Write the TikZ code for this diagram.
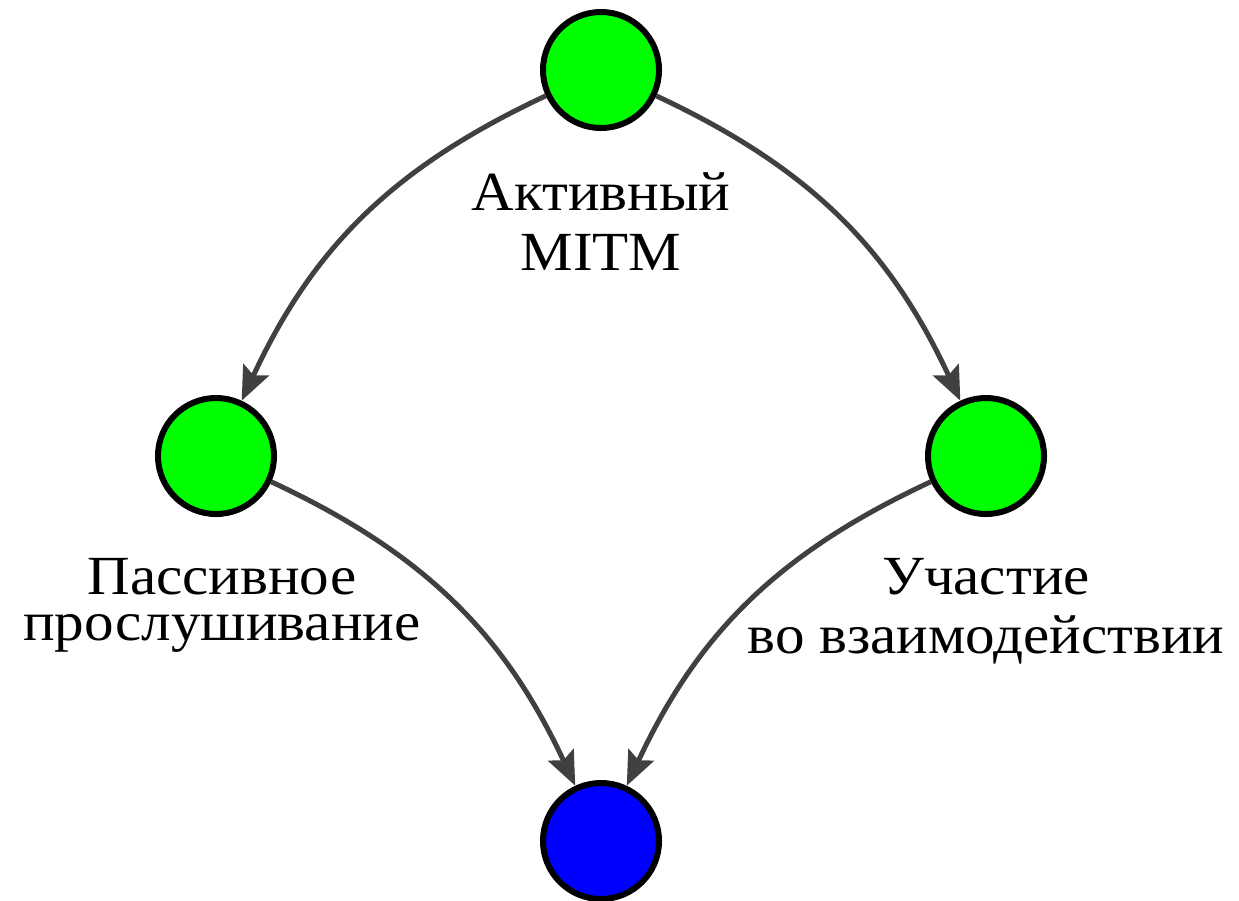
\documentclass[tikz,border=0pt]{standalone}
\usepackage{fontspec}
\setmainfont[FakeStretch=1.07]{Liberation Serif}
\usetikzlibrary{arrows.meta}
\definecolor{edgegray}{HTML}{404040}
\definecolor{nodegreen}{HTML}{00FF00}
\definecolor{nodeblue}{HTML}{0000FF}
\tikzset{
  state/.style={circle, draw=black, line width=1.5pt, minimum size=29pt, inner sep=0pt},
  greenstate/.style={state, fill=nodegreen},
  bluestate/.style={state, fill=nodeblue},
  flow/.style={draw=edgegray, line width=1.25pt,
    -{Stealth[length=8.5pt, width=7pt, inset=1.5pt]}},
  lbl/.style={inner sep=0pt, align=center, anchor=base}
}
\begin{document}
\begin{tikzpicture}[x=0.25pt, y=-0.25pt]
  \useasboundingbox (0,0) rectangle (1239,900);

  \node[greenstate] (top)    at (601,70)  {};
  \node[greenstate] (left)   at (216,456) {};
  \node[greenstate] (right)  at (986,456) {};
  \node[bluestate]  (bottom) at (601,841) {};

  \draw[flow] (top)   to[bend right=20] (left);
  \draw[flow] (top)   to[bend left=20]  (right);
  \draw[flow] (left)  to[bend left=20]  (bottom);
  \draw[flow] (right) to[bend right=20] (bottom);

  % base anchor sits on the last line of each label
  \node[lbl, font=\fontsize{13.8}{14.8}\selectfont] (active) at (601,270)
    {Активный\\MITM};
  \node[lbl, font=\fontsize{13.8}{11.4}\selectfont] (passive) at (222,640)
    {Пассивное\\прослушивание};
  \node[lbl, font=\fontsize{13.8}{14.6}\selectfont] (interact) at (986,653)
    {Участие\\во взаимодействии};
\end{tikzpicture}
\end{document}
